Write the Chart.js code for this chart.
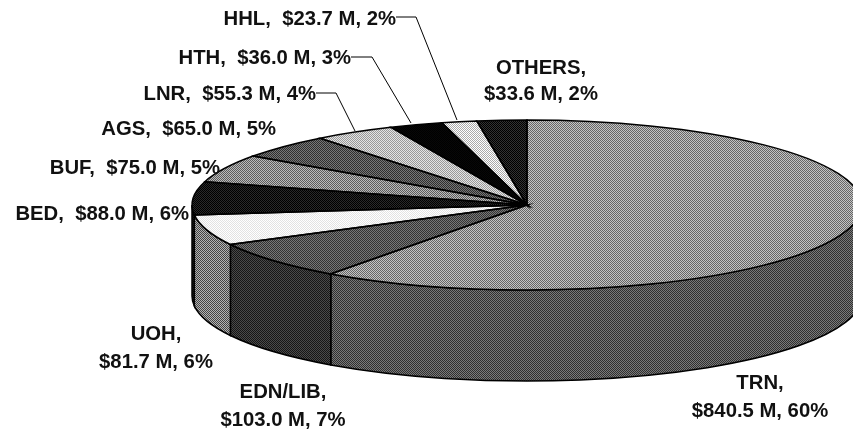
<!DOCTYPE html>
<html lang="en">
<head>
  <meta charset="UTF-8">
  <title>Budget by Agency</title>
  <script src="https://cdn.jsdelivr.net/npm/chart.js"></script>
  <style>
    body { margin: 0; background: #fff; }
    canvas { display: block; }
  </style>
</head>
<body>
  <canvas id="pieChart" width="853" height="430"></canvas>
  <script>
    // data
    var categories = ['TRN', 'EDN/LIB', 'UOH', 'BED', 'BUF', 'AGS', 'LNR', 'HTH', 'HHL', 'OTHERS'];
    var amounts = [840.5, 103.0, 81.7, 88.0, 75.0, 65.0, 55.3, 36.0, 23.7, 33.6];
    var percents = [60, 7, 6, 6, 5, 5, 4, 3, 2, 2];

    // two-tone dither, top face and side wall per slice
    var topTones = [
      ['#c4c4c4', '#666666'], ['#777777', '#333333'], ['#ffffff', '#e2e2e2'], ['#2a2a2a', '#000000'],
      ['#bbbbbb', '#5c5c5c'], ['#777777', '#2e2e2e'], ['#e4e4e4', '#999999'], ['#080808', '#000000'],
      ['#ffffff', '#aaaaaa'], ['#333333', '#000000']
    ];
    var sideTones = [
      ['#7a7a7a', '#303030'], ['#4a4a4a', '#161616'], ['#b4b4b4', '#444444'], ['#222222', '#000000']
    ];

    // label layout: lines, anchor x, baseline y
    var fontPx = 20.3;
    var labelLayout = [
      { i: 0, align: 'center', x: 760, y: [389, 417], split: true },
      { i: 1, align: 'center', x: 283, y: [398, 426], split: true },
      { i: 2, align: 'center', x: 156, y: [340, 368], split: true },
      { i: 3, align: 'right', x: 189, y: [220] },
      { i: 4, align: 'right', x: 220, y: [174] },
      { i: 5, align: 'right', x: 276, y: [135] },
      { i: 6, align: 'right', x: 316, y: [100] },
      { i: 7, align: 'right', x: 351, y: [64] },
      { i: 8, align: 'right', x: 396, y: [25] },
      { i: 9, align: 'center', x: 541, y: [74, 100], split: true }
    ];
    var leaders = [
      [[316, 93], [336, 93], [355, 131]],
      [[351, 57], [372, 57], [411, 123]],
      [[396, 17], [416, 17], [457, 120]]
    ];

    var radiusX = 335;
    var radiusY = 85;
    var depth = 91;
    var centerY = 205;
    var squash = radiusY / radiusX;

    function dither(tones, scaleY, offsetY) {
      var c = document.createElement('canvas');
      c.width = 2;
      c.height = 2;
      var g = c.getContext('2d');
      g.fillStyle = tones[0];
      g.fillRect(0, 0, 2, 2);
      g.fillStyle = tones[1];
      g.fillRect(0, 0, 1, 1);
      g.fillRect(1, 1, 1, 1);
      var p = g.createPattern(c, 'repeat');
      p.setTransform(new DOMMatrix([1, 0, 0, scaleY, 0, offsetY]));
      return p;
    }

    // undo the vertical squash so the dither stays 1px on the top face
    var topFills = topTones.map(function (t) {
      return dither(t, 1 / squash, -centerY * (1 - squash) / squash);
    });
    var sideFills = sideTones.map(function (t) { return dither(t, 1, 0); });

    var pie3d = {
      id: 'pie3d',
      beforeDatasetsDraw: function (chart) {
        var ctx = chart.ctx;
        var arcs = chart.getDatasetMeta(0).data;
        ctx.save();
        ctx.lineWidth = 1.5;
        ctx.strokeStyle = '#000';
        arcs.forEach(function (arc, i) {
          // only the front half of the rim shows
          var a0 = Math.max(arc.startAngle, 0);
          var a1 = Math.min(arc.endAngle, Math.PI);
          if (a1 <= a0) return;
          ctx.beginPath();
          ctx.ellipse(arc.x, arc.y, radiusX, radiusY, 0, a0, a1);
          ctx.ellipse(arc.x, arc.y + depth, radiusX, radiusY, 0, a1, a0, true);
          ctx.closePath();
          ctx.fillStyle = sideFills[i];
          ctx.fill();
          ctx.stroke();
        });
        ctx.restore();

        ctx.save();
        ctx.translate(0, arcs[0].y);
        ctx.scale(1, squash);
        ctx.translate(0, -arcs[0].y);
      },
      afterDatasetsDraw: function (chart) {
        var ctx = chart.ctx;
        var arcs = chart.getDatasetMeta(0).data;
        ctx.restore();

        ctx.save();
        ctx.lineWidth = 1.5;
        ctx.strokeStyle = '#000';
        arcs.forEach(function (arc) {
          ctx.beginPath();
          ctx.moveTo(arc.x, arc.y);
          ctx.ellipse(arc.x, arc.y, radiusX, radiusY, 0, arc.startAngle, arc.endAngle);
          ctx.closePath();
          ctx.stroke();
        });

        ctx.lineWidth = 1;
        leaders.forEach(function (pts) {
          ctx.beginPath();
          pts.forEach(function (p, k) {
            if (k === 0) ctx.moveTo(p[0], p[1]);
            else ctx.lineTo(p[0], p[1]);
          });
          ctx.stroke();
        });

        ctx.fillStyle = '#111';
        ctx.font = 'bold ' + fontPx + 'px "Liberation Sans", Arial, sans-serif';
        labelLayout.forEach(function (l) {
          var head = categories[l.i] + ',';
          var tail = '$' + amounts[l.i].toFixed(1) + ' M, ' + percents[l.i] + '%';
          ctx.textAlign = l.align;
          if (l.split) {
            ctx.fillText(head, l.x, l.y[0]);
            ctx.fillText(tail, l.x, l.y[1]);
          } else {
            ctx.fillText(head + '  ' + tail, l.x, l.y[0]);
          }
        });
        ctx.restore();
      }
    };

    new Chart(document.getElementById('pieChart').getContext('2d'), {
      type: 'pie',
      data: {
        labels: categories,
        datasets: [{
          data: amounts,
          backgroundColor: topFills,
          borderWidth: 0,
          radius: radiusX,
          clip: false
        }]
      },
      options: {
        responsive: false,
        animation: false,
        layout: { padding: { left: 201, bottom: 430 - 2 * centerY } },
        plugins: { legend: { display: false }, tooltip: { enabled: false } }
      },
      plugins: [pie3d]
    });
  </script>
</body>
</html>
